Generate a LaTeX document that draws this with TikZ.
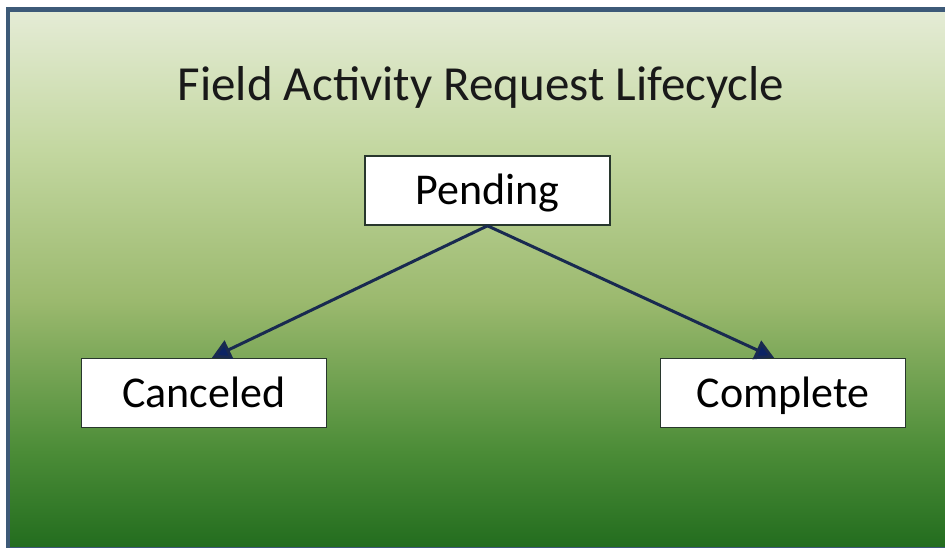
\documentclass[tikz,border=0pt]{standalone}
\usepackage{fontspec}
\setmainfont{Carlito}
\usetikzlibrary{positioning, arrows.meta}

\definecolor{framec}{RGB}{61,90,120}
\definecolor{linec}{RGB}{25,42,80}
\definecolor{tipc}{RGB}{12,36,100}
\definecolor{boxc}{RGB}{40,55,45}
\definecolor{gtop}{RGB}{229,236,214}
\definecolor{gupper}{RGB}{195,215,160}
\definecolor{gmid}{RGB}{155,185,110}
\definecolor{glower}{RGB}{75,140,55}
\definecolor{gbottom}{RGB}{34,108,30}
\pgfdeclareverticalshading{lifecyclebg}{100bp}{color(0bp)=(gbottom); color(25bp)=(gbottom);
  color(34bp)=(glower); color(48bp)=(gmid); color(62bp)=(gupper); color(75bp)=(gtop); color(100bp)=(gtop)}

\begin{document}
\begin{tikzpicture}[
    x=1pt, y=-1pt,
    state/.style={draw=boxc, line width=1.6pt, fill=white, minimum width=245pt, minimum height=69pt,
                  inner sep=0pt, font=\fontsize{44}{52}\selectfont, text height=28pt, text depth=0pt},
    arrow/.style={-{Triangle[length=19pt, width=20pt, fill=tipc]}, draw=linec, line width=3pt},
    title/.style={font=\fontsize{49}{58}\selectfont, text=black!90, anchor=base},
]

\useasboundingbox (0,0) rectangle (945,547);
\fill[white] (0,0) rectangle (945,547);
\shade[shading=lifecyclebg] (8,9.5) rectangle (960,549);
\draw[framec, line width=4.5pt] (8,9.5) rectangle (960,549);

\node[title] (title) at (481,100) {Field Activity Request Lifecycle};

\node[state] (pending) at (487.5,190.5) {Pending};
\node[state, below left=132pt and 37pt of pending] (canceled) {Canceled};
\node[state, below right=132pt and 49pt of pending] (complete) {Complete};

\draw[arrow] (pending.south) -- ([xshift=8pt]canceled.north);
\draw[arrow] (pending.south) -- ([xshift=-9pt]complete.north);

\end{tikzpicture}
\end{document}
